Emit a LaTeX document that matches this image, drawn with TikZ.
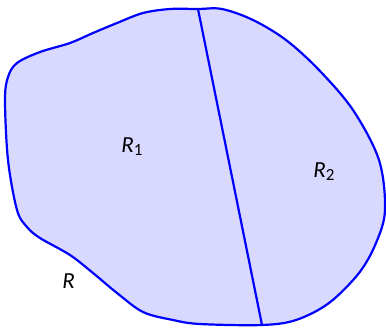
\documentclass[tikz,border=0pt]{standalone}
\usepackage{fontspec}
\setmainfont{Carlito}
\newcommand{\lblsub}[1]{\raisebox{-1.6pt}{\fontsize{8.5pt}{9pt}\selectfont #1}}
\begin{document}
\begin{tikzpicture}[x=0.5pt,y=-0.5pt,
  regionline/.style={draw=blue, line width=1.1pt},
  lbl/.style={font=\fontsize{11.5pt}{13pt}\selectfont\itshape, anchor=base west, inner sep=0pt}]
\useasboundingbox (0,0) rectangle (386,329);
\coordinate (top) at (198,9);
\coordinate (bot) at (262,325);
\fill[blue!15] plot[smooth cycle, tension=0.55] coordinates {
 (top) (222,9) (253,20) (286,40) (319,70) (353,110) (379,160) (385,210) (376,243) (359,273) (329,303) (296,320) (bot)
 (200,324) (173,320) (143,312) (117,293) (93,273) (70,255) (40,238) (27,227) (17,210) (8,160) (5,100) (8,77) (17,63) (40,52) (70,43) (93,33) (117,23) (143,13) (170,9)};
\draw[regionline] plot[smooth cycle, tension=0.55] coordinates {
 (top) (222,9) (253,20) (286,40) (319,70) (353,110) (379,160) (385,210) (376,243) (359,273) (329,303) (296,320) (bot)
 (200,324) (173,320) (143,312) (117,293) (93,273) (70,255) (40,238) (27,227) (17,210) (8,160) (5,100) (8,77) (17,63) (40,52) (70,43) (93,33) (117,23) (143,13) (170,9)};
\draw[regionline] (top) -- (bot);
\node[lbl] (r1) at (121,152) {R\upshape\lblsub{1}};
\node[lbl] (r2) at (313,177) {R\upshape\lblsub{2}};
\node[lbl] (r) at (62,288) {R};
\end{tikzpicture}
\end{document}
